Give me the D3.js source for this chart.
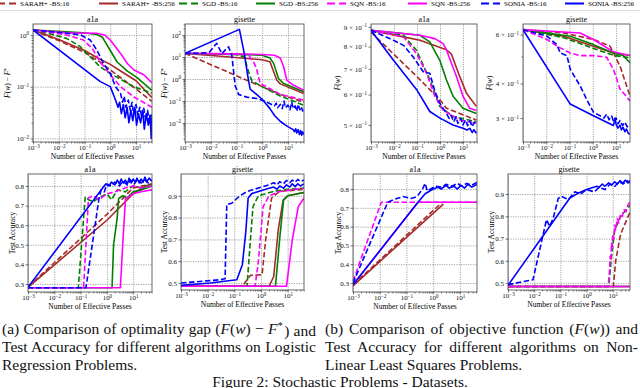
<!DOCTYPE html>
<html>
<head>
<meta charset="utf-8">
<script src="https://cdn.jsdelivr.net/npm/d3@7"></script>
<style>
body { margin: 0; background: #fff; }
svg { display: block; }
</style>
</head>
<body>
<svg id="fig" width="640" height="388"></svg>
<script>
// ---- data: [effective passes, value] ----
let seriesKeys = ['s16', 's256', 'g16', 'g256', 'q16', 'q256', 'n16', 'n256']
let seriesNames = ['SARAH+ -BS:16', 'SARAH+ -BS:256', 'SGD -BS:16', 'SGD -BS:256',
  'SQN -BS:16', 'SQN -BS:256', 'SONIA -BS:16', 'SONIA -BS:256']

let xMajor = [1e-3, 1e-2, 1e-1, 1, 10]

let gapTicksA1a = [1, 0.1, 0.01]
let gapTicksGisette = [100, 10, 1, 0.1, 0.01]
let objTicksA1a = [0.9, 0.8, 0.7, 0.6, 0.5]
let objTicksGisette = [0.6, 0.4, 0.3]
let accTicksA1a = [0.3, 0.4, 0.5, 0.6, 0.7, 0.8]
let accTicksGisette = [0.5, 0.6, 0.7, 0.8, 0.9]

// optimality gap, logistic regression, a1a
let gapA1a = {
  s16: [[0.001,1.22],[0.01,0.78],[0.1,0.46],[0.4,0.3],[1,0.21],[3,0.14],[10,0.09],[41,0.052]],
  s256: [[0.001,1.25],[0.01,0.82],[0.1,0.5],[0.4,0.34],[1,0.27],[3,0.19],[10,0.13],[41,0.062]],
  g16: [[0.001,1.25],[0.0045,1.05],[0.02,0.86],[0.068,0.6],[0.12,0.44],[0.22,0.33],[0.41,0.24],[1,0.18],[2.5,0.14],[8,0.1],[41,0.075]],
  g256: [[0.001,1.25],[0.02,1.15],[0.09,1.1],[0.3,1.02],[0.5,0.9],[1,0.5],[1.85,0.3],[4.6,0.2],[11,0.15],[41,0.085]],
  q16: [[0.001,1.25],[0.02,1.0],[0.09,0.8],[0.2,0.55],[0.41,0.3],[1,0.17],[2.5,0.1],[8,0.064],[41,0.04]],
  q256: [[0.001,1.25],[0.02,1.1],[0.3,1.08],[0.6,1.0],[1,0.8],[2.5,0.44],[4.6,0.28],[8.3,0.21],[20,0.17],[41,0.12]],
  n16: [[0.001,1.25],[0.02,1.08],[0.07,1.0],[0.166,0.8],[0.3,0.51],[0.55,0.28],[1,0.18],[1.6,0.1],[2.5,0.074],[3,0.05],[3.5,0.065],[4,0.04],[5,0.055],[6,0.035],[7,0.05],[8,0.03],[10,0.045],[12,0.028],[14,0.04],[17,0.025],[20,0.038],[24,0.022],[28,0.035],[33,0.02],[41,0.03]],
  n256: [[0.001,1.25],[0.41,0.125],[1,0.1],[1.6,0.055],[2,0.04],[2.3,0.05],[2.7,0.03],[3.2,0.045],[3.8,0.025],[4.5,0.04],[5.3,0.02],[6.3,0.035],[7.5,0.022],[9,0.04],[10.5,0.018],[12.5,0.03],[15,0.02],[18,0.035],[21,0.015],[25,0.03],[30,0.018],[35,0.028],[39,0.01],[41,0.025]]
}

// optimality gap, logistic regression, gisette
let gapGisette = {
  s16: [[0.001,14.6],[0.34,0.75],[1,0.45],[5,0.2],[41,0.09]],
  s256: [[0.001,14.6],[0.042,10.3],[1,7.5],[2,6.1],[3.7,0.88],[5,0.6],[41,0.22]],
  g16: [[0.001,14.6],[0.1,13],[0.2,10],[0.3,2],[0.4,0.8],[1,0.45],[5,0.17],[41,0.064]],
  g256: [[0.001,14.6],[0.1,13],[1,12],[2,9],[2.8,5],[4.3,1.05],[6.8,0.62],[41,0.26]],
  q16: [[0.001,14.6],[0.1,13.5],[0.3,12],[0.5,5],[0.62,2.5],[0.84,0.6],[1.5,0.44],[5,0.2],[41,0.11]],
  q256: [[0.001,14.6],[0.1,14],[1,13],[3,12],[5,9],[6.8,3.6],[9,0.9],[16,0.53],[41,0.31]],
  n16: [[0.001,14.6],[0.005,15],[0.009,17],[0.017,42],[0.027,14],[0.042,25],[0.049,29],[0.066,12],[0.089,0.5],[0.12,0.2],[0.25,0.15],[0.6,0.13],[1.5,0.09],[3,0.06],[3.5,0.08],[4,0.05],[5,0.07],[6,0.045],[7,0.1],[8,0.05],[10,0.065],[12,0.04],[14,0.09],[16,0.045],[19,0.06],[22,0.035],[25,0.07],[29,0.04],[33,0.055],[37,0.035],[41,0.05]],
  n256: [[0.001,14.6],[0.13,180],[0.2,15],[0.28,1.2],[0.34,0.35],[0.6,0.2],[1,0.12],[2,0.045],[3,0.022],[5,0.012],[8,0.008],[12,0.006],[16,0.005],[18,0.004],[20,0.0055],[22,0.0035],[25,0.005],[28,0.003],[31,0.0045],[34,0.0028],[37,0.004],[41,0.003]]
}

// objective, non-linear least squares, a1a
let objA1a = {
  s16: [[0.001,0.872],[0.0132,0.751],[0.097,0.669],[0.36,0.618],[0.98,0.582],[1.9,0.553],[38,0.515]],
  s256: [[0.001,0.882],[0.026,0.848],[0.135,0.831],[1.9,0.785],[3.1,0.766],[7.2,0.669],[14,0.606],[38,0.559]],
  g16: [[0.001,0.882],[0.026,0.856],[0.097,0.781],[0.36,0.656],[0.98,0.559],[3.7,0.526],[38,0.51]],
  g256: [[0.001,0.882],[0.135,0.856],[0.36,0.823],[0.98,0.737],[1.9,0.656],[3.7,0.594],[10,0.553],[38,0.536]],
  q16: [[0.001,0.882],[0.026,0.848],[0.097,0.766],[0.26,0.682],[0.6,0.594],[1.37,0.547],[7.2,0.515],[38,0.505]],
  q256: [[0.001,0.882],[0.135,0.856],[0.6,0.839],[1.37,0.814],[1.9,0.785],[5.2,0.669],[10,0.594],[19.5,0.553],[38,0.545]],
  n16: [[0.001,0.882],[0.0095,0.831],[0.026,0.806],[0.069,0.751],[0.187,0.688],[0.36,0.682],[0.6,0.612],[0.98,0.57],[1.9,0.536],[2.5,0.52],[3,0.53],[4,0.51],[5,0.525],[6,0.505],[8,0.52],[10,0.5],[13,0.515],[16,0.498],[20,0.512],[25,0.495],[31,0.508],[38,0.497]],
  n256: [[0.001,0.882],[0.0095,0.737],[0.097,0.618],[0.36,0.542],[1,0.521],[3.7,0.5],[10,0.49],[15,0.485],[20,0.49],[25,0.478],[30,0.486],[38,0.476]]
}

// objective, non-linear least squares, gisette
let objGisette = {
  s16: [[0.001,0.625],[0.055,0.608],[1.07,0.576],[5.5,0.545],[14.8,0.462],[40,0.36]],
  s256: [[0.001,0.625],[0.055,0.592],[1.07,0.545],[7.7,0.515],[40,0.504]],
  g16: [[0.001,0.625],[0.055,0.585],[1.07,0.535],[7.7,0.505],[40,0.495]],
  g256: [[0.001,0.625],[0.107,0.592],[1.07,0.552],[7.7,0.515],[20,0.504],[40,0.475]],
  q16: [[0.001,0.625],[0.0107,0.576],[0.0286,0.545],[0.107,0.515],[0.285,0.504],[1.07,0.504],[3.95,0.497],[7.7,0.45],[14.8,0.382],[40,0.346]],
  q256: [[0.001,0.625],[0.285,0.608],[1.07,0.576],[7.7,0.52],[40,0.504]],
  n16: [[0.001,0.625],[0.0107,0.592],[0.0286,0.552],[0.04,0.515],[0.055,0.51],[0.077,0.504],[0.107,0.45],[0.285,0.392],[0.55,0.35],[1.07,0.315],[2.05,0.306],[3,0.3],[4,0.31],[5,0.296],[6.5,0.305],[8,0.29],[10,0.3],[12,0.286],[15,0.294],[19,0.282],[24,0.29],[30,0.279],[40,0.284]],
  n256: [[0.001,0.625],[0.107,0.337],[1.07,0.306],[7.7,0.282],[9,0.3],[10,0.285],[12,0.276],[14.8,0.283],[17,0.272],[20,0.278],[24,0.268],[28,0.274],[33,0.265],[40,0.262]]
}

// test accuracy, logistic regression, a1a
let accLrA1a = {
  s16: [[0.001,0.285],[1,0.655],[10,0.79],[52,0.81]],
  s256: [[0.001,0.283],[1,0.625],[10,0.76],[30,0.8],[52,0.81]],
  g16: [[0.001,0.281],[0.082,0.281],[0.15,0.745],[0.2,0.73],[0.3,0.72],[0.5,0.74],[1,0.76],[1.5,0.73],[2.5,0.78],[5,0.77],[10,0.8],[20,0.79],[52,0.81]],
  g256: [[0.001,0.281],[1.57,0.281],[1.8,0.5],[2.45,0.634],[2.8,0.736],[4,0.75],[6,0.74],[10,0.77],[20,0.78],[52,0.8]],
  q16: [[0.001,0.281],[0.13,0.281],[0.2,0.74],[0.3,0.75],[0.5,0.73],[1,0.76],[2,0.77],[5,0.79],[10,0.8],[20,0.79],[52,0.8]],
  q256: [[0.001,0.281],[3.27,0.281],[4,0.5],[5.1,0.736],[7,0.745],[10,0.76],[20,0.77],[52,0.78]],
  n16: [[0.001,0.281],[0.16,0.281],[0.5,0.735],[0.6,0.78],[0.8,0.77],[1,0.81],[1.5,0.8],[2,0.82],[3,0.8],[4,0.825],[6,0.805],[8,0.83],[11,0.81],[15,0.835],[20,0.815],[28,0.83],[38,0.815],[52,0.83]],
  n256: [[0.001,0.283],[0.9,0.81],[1.2,0.8],[1.5,0.82],[2,0.805],[2.5,0.83],[3,0.81],[3.5,0.835],[4.2,0.815],[5,0.83],[6,0.81],[7,0.84],[8.5,0.815],[10,0.835],[12,0.82],[14,0.84],[17,0.815],[20,0.835],[24,0.82],[28,0.845],[33,0.82],[40,0.84],[52,0.825]]
}

// test accuracy, logistic regression, gisette
let accLrGisette = {
  s16: [[0.001,0.485],[0.2,0.485],[0.4,0.535],[1.1,0.538],[1.5,0.7],[2.5,0.89],[5,0.92],[41,0.93]],
  s256: [[0.001,0.485],[2,0.485],[3,0.53],[4.5,0.75],[6.8,0.88],[10,0.9],[41,0.915]],
  g16: [[0.001,0.485],[0.3,0.485],[0.35,0.6],[0.5,0.85],[0.8,0.9],[1.5,0.91],[3,0.92],[10,0.93],[41,0.935]],
  g256: [[0.001,0.485],[3.5,0.485],[5,0.7],[7,0.88],[10,0.9],[41,0.915]],
  q16: [[0.001,0.485],[0.6,0.485],[0.8,0.6],[1.2,0.85],[2,0.9],[5,0.92],[41,0.935]],
  q256: [[0.001,0.485],[9,0.485],[15,0.7],[25,0.85],[41,0.89]],
  n16: [[0.001,0.5],[0.03,0.515],[0.045,0.52],[0.052,0.86],[0.08,0.866],[0.15,0.897],[0.3,0.92],[2,0.95],[3,0.96],[4,0.95],[5,0.965],[7,0.955],[9,0.97],[12,0.96],[15,0.972],[19,0.962],[24,0.975],[30,0.965],[41,0.972]],
  n256: [[0.001,0.489],[0.0125,0.5],[0.124,0.515],[0.2,0.584],[0.27,0.737],[0.33,0.89],[0.45,0.91],[2,0.935],[3,0.94],[4,0.93],[5,0.945],[7,0.935],[9,0.95],[12,0.94],[15,0.955],[19,0.942],[24,0.955],[30,0.945],[41,0.955]]
}

// test accuracy, non-linear least squares, a1a
let accNlA1a = {
  s16: [[0.001,0.29],[2.0,0.725]],
  s256: [[0.001,0.285],[2.4,0.72]],
  g16: [],
  g256: [],
  q16: [[0.001,0.31],[0.0115,0.73],[44,0.73]],
  q256: [[0.001,0.29],[0.27,0.73],[44,0.73]],
  n16: [[0.001,0.3],[0.02,0.73],[0.035,0.745],[0.075,0.76],[0.15,0.75],[0.25,0.76],[0.4,0.8],[0.5,0.83],[0.6,0.79],[0.8,0.8],[1.2,0.815],[2,0.81],[3,0.825],[5,0.815],[8,0.83],[12,0.815],[18,0.83],[27,0.82],[44,0.835]],
  n256: [[0.001,0.29],[0.27,0.73],[0.5,0.775],[1,0.8],[1.5,0.81],[2,0.8],[3,0.82],[4,0.805],[6,0.815],[8,0.8],[11,0.82],[15,0.805],[20,0.825],[28,0.81],[44,0.825]]
}

// test accuracy, non-linear least squares, gisette
let accNlGisette = {
  s16: [[0.001,0.485],[10.6,0.485],[13,0.6],[20,0.72],[46,0.82]],
  s256: [[0.001,0.485],[46,0.485]],
  g16: [[0.001,0.485],[7,0.485],[9,0.62],[12,0.74],[20,0.8],[46,0.85]],
  g256: [[0.001,0.485],[46,0.485]],
  q16: [[0.001,0.485],[6.7,0.485],[7.5,0.55],[8,0.62],[8.5,0.6],[9,0.68],[9.5,0.65],[10,0.72],[11,0.7],[12,0.76],[13,0.74],[15,0.79],[17,0.77],[20,0.81],[23,0.8],[27,0.83],[32,0.82],[38,0.85],[46,0.865]],
  q256: [[0.001,0.485],[46,0.485]],
  n16: [[0.001,0.493],[0.009,0.515],[0.0295,0.785],[0.039,0.755],[0.053,0.79],[0.083,0.88],[0.11,0.89],[0.2,0.875],[0.36,0.91],[0.6,0.9],[1,0.92],[2,0.91],[3,0.93],[5,0.92],[8,0.945],[12,0.935],[18,0.955],[25,0.945],[35,0.96],[46,0.95]],
  n256: [[0.001,0.49],[0.23,0.882],[0.5,0.905],[1,0.92],[2.5,0.935],[3,0.93],[4,0.945],[5,0.935],[7,0.95],[9,0.94],[12,0.955],[15,0.945],[19,0.96],[24,0.948],[30,0.962],[38,0.95],[46,0.96]]
}

let captionA = ['(a) Comparison of optimality gap (F(w) − F*) and',
  'Test Accuracy for different algorithms on Logistic',
  'Regression Problems.']
let captionB = ['(b) Comparison of objective function (F(w)) and',
  'Test Accuracy for different algorithms on Non-',
  'Linear Least Squares Problems.']
let figureLine = 'Figure 2: Stochastic Problems - Datasets.'

// ---- styling / layout ----
let colors = { s: '#a52a2a', g: '#008000', q: '#ff00ff', n: '#0000ff' }
let serif = '"Liberation Serif", "DejaVu Serif", serif'

let panels = [
  { data: gapA1a, title: 'a1a', box: [33, 24, 152, 142], xMax: 41.7, log: true, yDom: [0.0085, 1.63], yTicks: gapTicksA1a, fmt: 'pow', grid: true, ylab: 'gap', ylabX: 7 },
  { data: gapGisette, title: 'gisette', box: [185, 24, 304, 142], xMax: 42, log: true, yDom: [0.00137, 316], yTicks: gapTicksGisette, fmt: 'pow', grid: true, ylab: 'gap', ylabX: 164 },
  { data: objA1a, title: 'a1a', box: [371, 24, 477, 142], xMax: 40.7, log: true, yDom: [0.4515, 0.916], yTicks: objTicksA1a, fmt: 'mant', grid: false, ylab: 'obj', ylabX: 337 },
  { data: objGisette, title: 'gisette', box: [523, 24, 630, 142], xMax: 39.8, log: true, yDom: [0.246, 0.655], yTicks: objTicksGisette, fmt: 'mant', grid: false, ylab: 'obj', ylabX: 489 },
  { data: accLrA1a, title: 'a1a', box: [28, 174, 152, 292], xMax: 52, log: false, yDom: [0.259, 0.861], yTicks: accTicksA1a, fmt: 'lin', grid: true, ylab: 'acc', ylabX: 12 },
  { data: accLrGisette, title: 'gisette', box: [181, 174, 304, 290], xMax: 41, log: false, yDom: [0.468, 1.0], yTicks: accTicksGisette, fmt: 'lin', grid: true, ylab: 'acc', ylabX: 164 },
  { data: accNlA1a, title: 'a1a', box: [353, 174, 477, 292], xMax: 43.6, log: false, yDom: [0.252, 0.88], yTicks: accTicksA1a, fmt: 'lin', grid: true, ylab: 'acc', ylabX: 338 },
  { data: accNlGisette, title: 'gisette', box: [508, 174, 630, 290], xMax: 45.7, log: false, yDom: [0.469, 0.99], yTicks: accTicksGisette, fmt: 'lin', grid: true, ylab: 'acc', ylabX: 491 }
]

let svg = d3.select('#fig')
svg.append('rect').attr('width', 640).attr('height', 388).attr('fill', '#fff')
let defs = svg.append('defs')

let minorTicks = (lo, hi) => {
  let out = []
  for (let e = -4; e <= 3; e++) {
    for (let m = 2; m <= 9; m++) {
      let v = m * Math.pow(10, e)
      if (v >= lo && v <= hi) out.push(v)
    }
  }
  return out
}

let addPow = (t, exp) => {
  t.text(null)
  t.append('tspan').text('10')
  t.append('tspan').attr('dy', '-0.45em').attr('font-size', '0.72em')
    .text(String(exp).replace('-', '−'))
}

let styleAxis = (g) => {
  g.attr('font-family', serif).attr('font-size', 7)
  g.select('.domain').remove()
  g.selectAll('.tick line').attr('stroke', '#222').attr('stroke-width', 0.6)
  g.selectAll('.tick text').attr('fill', '#111')
}

let drawPanel = (p, idx) => {
  let [x0, y0, x1, y1] = p.box
  let xs = d3.scaleLog().domain([1e-3, p.xMax]).range([x0, x1])
  let ys = (p.log ? d3.scaleLog() : d3.scaleLinear()).domain(p.yDom).range([y1, y0])
  let g = svg.append('g')

  // grid
  let gx = g.append('g').attr('transform', 'translate(0,' + y1 + ')')
    .call(d3.axisBottom(xs).tickValues(xMajor).tickSize(-(y1 - y0)).tickFormat(''))
  gx.select('.domain').remove()
  gx.selectAll('line').attr('stroke', '#666').attr('stroke-width', 0.6).attr('stroke-dasharray', '1.2,1.2')
  if (p.grid) {
    let gy = g.append('g').attr('transform', 'translate(' + x0 + ',0)')
      .call(d3.axisLeft(ys).tickValues(p.yTicks).tickSize(-(x1 - x0)).tickFormat(''))
    gy.select('.domain').remove()
    gy.selectAll('line').attr('stroke', '#666').attr('stroke-width', 0.6).attr('stroke-dasharray', '1.2,1.2')
  }

  // lines
  let cid = 'clip' + idx
  defs.append('clipPath').attr('id', cid).append('rect')
    .attr('x', x0).attr('y', y0).attr('width', x1 - x0).attr('height', y1 - y0)
  let line = d3.line().x(d => xs(d[0])).y(d => ys(d[1]))
  let lg = g.append('g').attr('clip-path', 'url(#' + cid + ')')
  seriesKeys.forEach(k => {
    let vals = p.data[k]
    if (!vals || vals.length < 2) return
    lg.append('path')
      .datum(vals)
      .attr('d', line)
      .attr('fill', 'none')
      .attr('stroke', colors[k[0]])
      .attr('stroke-width', 1.6)
      .attr('stroke-linejoin', 'round')
      .attr('stroke-dasharray', k.endsWith('16') ? '5.5,2.5' : null)
  })

  // frame
  g.append('rect').attr('x', x0).attr('y', y0).attr('width', x1 - x0).attr('height', y1 - y0)
    .attr('fill', 'none').attr('stroke', '#444').attr('stroke-width', 0.8)

  // x axis
  let ax = g.append('g').attr('transform', 'translate(0,' + y1 + ')')
    .call(d3.axisBottom(xs).tickValues(xMajor).tickSize(2.5).tickPadding(1))
  styleAxis(ax)
  ax.selectAll('.tick text').each(function (d) {
    addPow(d3.select(this), Math.round(Math.log10(d)))
  })
  let axm = g.append('g').attr('transform', 'translate(0,' + y1 + ')')
    .call(d3.axisBottom(xs).tickValues(minorTicks(1e-3, p.xMax)).tickSize(1.5).tickFormat(''))
  styleAxis(axm)

  // y axis
  let ay = g.append('g').attr('transform', 'translate(' + x0 + ',0)')
    .call(d3.axisLeft(ys).tickValues(p.yTicks).tickSize(2.5).tickPadding(1.5))
  styleAxis(ay)
  ay.selectAll('.tick text').each(function (d) {
    let t = d3.select(this)
    if (p.fmt === 'pow') addPow(t, Math.round(Math.log10(d)))
    else if (p.fmt === 'mant') {
      t.text(null)
      t.append('tspan').text(Math.round(d * 10) + ' × 10')
      t.append('tspan').attr('dy', '-0.45em').attr('font-size', '0.72em').text('−1')
    } else t.text(d3.format('.1f')(d))
  })
  if (p.log) {
    let mt = minorTicks(p.yDom[0], p.yDom[1]).filter(v => !p.yTicks.some(t => Math.abs(t - v) < 1e-9))
    let aym = g.append('g').attr('transform', 'translate(' + x0 + ',0)')
      .call(d3.axisLeft(ys).tickValues(mt).tickSize(1.5).tickFormat(''))
    styleAxis(aym)
  }

  // labels
  g.append('text').attr('x', (x0 + x1) / 2).attr('y', y0 - 2.5)
    .attr('text-anchor', 'middle').attr('font-family', serif).attr('font-size', 8).text(p.title)
  g.append('text').attr('x', (x0 + x1) / 2).attr('y', y1 + 16.5)
    .attr('text-anchor', 'middle').attr('font-family', serif).attr('font-size', 7.5)
    .text('Number of Effective Passes')
  let yl = g.append('text')
    .attr('transform', 'translate(' + p.ylabX + ',' + (y0 + y1) / 2 + ') rotate(-90)')
    .attr('dy', '0.35em').attr('text-anchor', 'middle')
    .attr('font-family', serif).attr('font-size', 7.5)
  if (p.ylab === 'acc') yl.text('Test Accuracy')
  else {
    yl.append('tspan').attr('font-style', 'italic').text('F')
    yl.append('tspan').text('(')
    yl.append('tspan').attr('font-style', 'italic').text('w')
    yl.append('tspan').text(')')
    if (p.ylab === 'gap') {
      yl.append('tspan').text(' − ')
      yl.append('tspan').attr('font-style', 'italic').text('F')
      yl.append('tspan').attr('dy', '-0.4em').attr('font-size', '0.7em').text('*')
    }
  }
}

panels.forEach(drawPanel)

// ---- legend ----
let legendTextX = [20, 122, 202, 279, 350, 431, 504, 588]
let lgd = svg.append('g')
svg.append('line').attr('x1', 0).attr('x2', 640).attr('y1', 10.5).attr('y2', 10.5)
  .attr('stroke', '#d0d0d0').attr('stroke-width', 0.8)
seriesKeys.forEach((k, i) => {
  let tx = legendTextX[i]
  lgd.append('line').attr('x1', tx - 23).attr('x2', tx - 4).attr('y1', 3.5).attr('y2', 3.5)
    .attr('stroke', colors[k[0]]).attr('stroke-width', 2)
    .attr('stroke-dasharray', k.endsWith('16') ? '8,4' : null)
  lgd.append('text').attr('x', tx).attr('y', 6.3)
    .attr('font-family', serif).attr('font-size', 7).text(seriesNames[i])
})

// ---- caption ----
let capFont = '"Liberation Serif", "Times New Roman", serif'
let capLine = (str, x, y, width, anchor) => {
  let t = svg.append('text').attr('x', x).attr('y', y)
    .attr('font-family', capFont).attr('font-size', 15.5).attr('fill', '#111')
    .attr('text-anchor', anchor || 'start')
  let parts = str.split(/(F\(w\)|F\*)/)
  parts.forEach(s => {
    if (s === 'F(w)') {
      t.append('tspan').attr('font-style', 'italic').text('F')
      t.append('tspan').text('(')
      t.append('tspan').attr('font-style', 'italic').text('w')
      t.append('tspan').text(')')
    } else if (s === 'F*') {
      t.append('tspan').attr('font-style', 'italic').text('F')
      t.append('tspan').attr('dy', '-0.45em').attr('font-size', '0.7em').text('*')
      t.append('tspan').attr('dy', '0.45em').text('\u200a')
    } else if (s.length) t.append('tspan').text(s)
  })
  if (width) {
    let w = t.node().getComputedTextLength()
    let spaces = (str.match(/ /g) || []).length
    if (spaces) t.attr('word-spacing', (width - w) / spaces)
  }
}
let capY = [334, 352, 369.5]
captionA.forEach((s, i) => capLine(s, 2, capY[i], i < 2 ? 314 : 0))
captionB.forEach((s, i) => capLine(s, 325, capY[i], i < 2 ? 313 : 0))
capLine(figureLine, 340, 386.5, 0, 'middle')
</script>
</body>
</html>
